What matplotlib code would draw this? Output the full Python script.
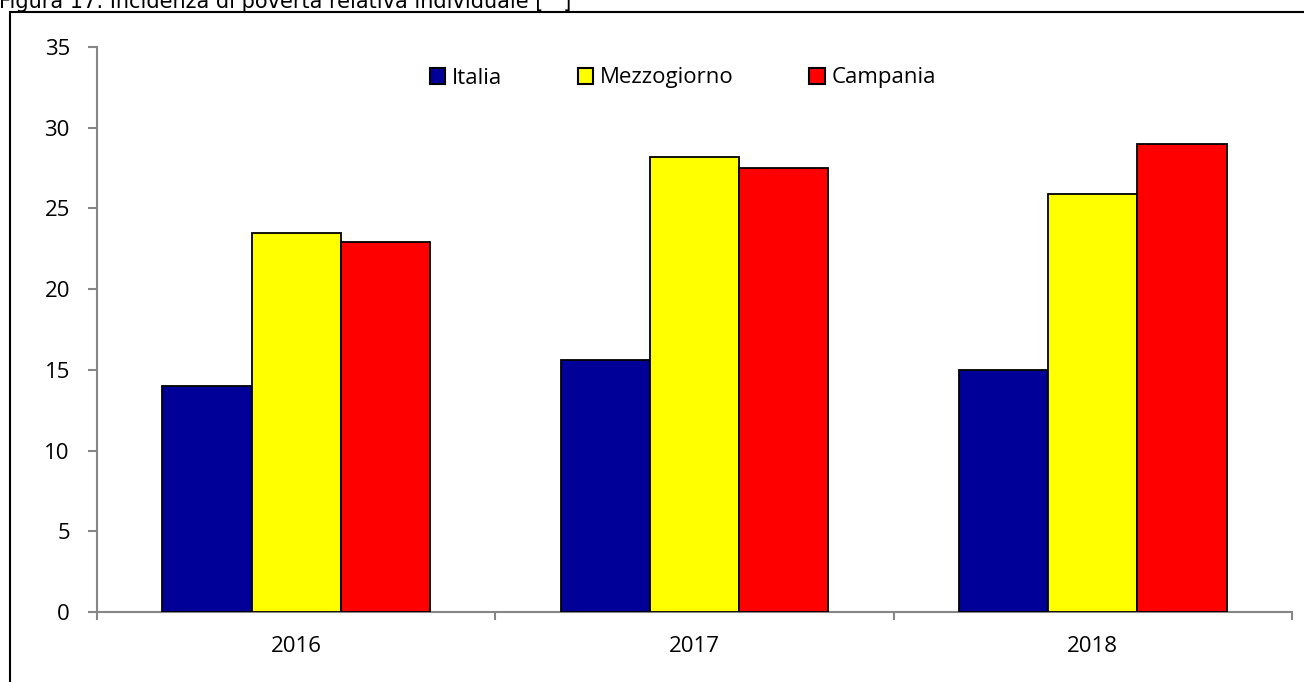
import numpy as np
import matplotlib.pyplot as plt
from matplotlib.patches import Rectangle

anni = ["2016", "2017", "2018"]
italia = [14.0, 15.6, 15.0]
mezzogiorno = [23.5, 28.2, 25.9]
campania = [22.9, 27.5, 29.0]
serie = ["Italia", "Mezzogiorno", "Campania"]
colori = ["#000099", "#FFFF00", "#FF0000"]

plt.rcParams['font.family'] = ['Open Sans', 'DejaVu Sans']

fig = plt.figure(figsize=(13.04, 6.82), dpi=100)
ax = fig.add_axes([97/1304, 1 - 612/682, (1292 - 97)/1304, (612 - 47)/682])

x = np.arange(len(anni))
w = 0.224
for i, (vals, nome, col) in enumerate(zip([italia, mezzogiorno, campania], serie, colori)):
	ax.bar(x + (i - 1) * w, vals, w, color=col, edgecolor="black", linewidth=1.3, label=nome, zorder=3)

ax.set_xlim(-0.5, 2.5)
ax.set_ylim(0, 35)
ax.set_yticks(range(0, 36, 5))
ax.set_xticks(x)
ax.set_xticklabels(anni)
ax.set_xticks([-0.5, 0.5, 1.5, 2.5], minor=True)
ax.tick_params(axis="x", which="major", length=0, pad=17, labelsize=16)
ax.tick_params(axis="x", which="minor", length=6, width=1.5, color="#868686", direction="out")
ax.tick_params(axis="y", length=6.5, width=1.5, color="#868686", pad=13, labelsize=16)
for s in ["top", "right"]:
	ax.spines[s].set_visible(False)
for s in ["left", "bottom"]:
	ax.spines[s].set_color("#868686")
	ax.spines[s].set_linewidth(1.5)

leg = ax.legend(loc="center", bbox_to_anchor=(683/1304, 1 - 78/682), bbox_transform=fig.transFigure,
	ncol=3, frameon=False, fontsize=16, handlelength=0.7, handleheight=0.7,
	handletextpad=0.3, columnspacing=3.4, borderaxespad=0)
for h in leg.legend_handles:
	h.set_linewidth(1.5)

# cornice del grafico e titolo tagliato in alto
fig.patches.append(Rectangle((10/1304, -0.1), 1.2, 1.1 - 12/682, transform=fig.transFigure,
	fill=False, edgecolor="black", linewidth=1.5, zorder=0))
fig.text(-0.001, 1 - 8/682, "Figura 17: Incidenza di povertà relativa individuale [   ]",
	family="DejaVu Sans", fontsize=15, va="baseline", ha="left")

fig.savefig("out.png", dpi=100)
